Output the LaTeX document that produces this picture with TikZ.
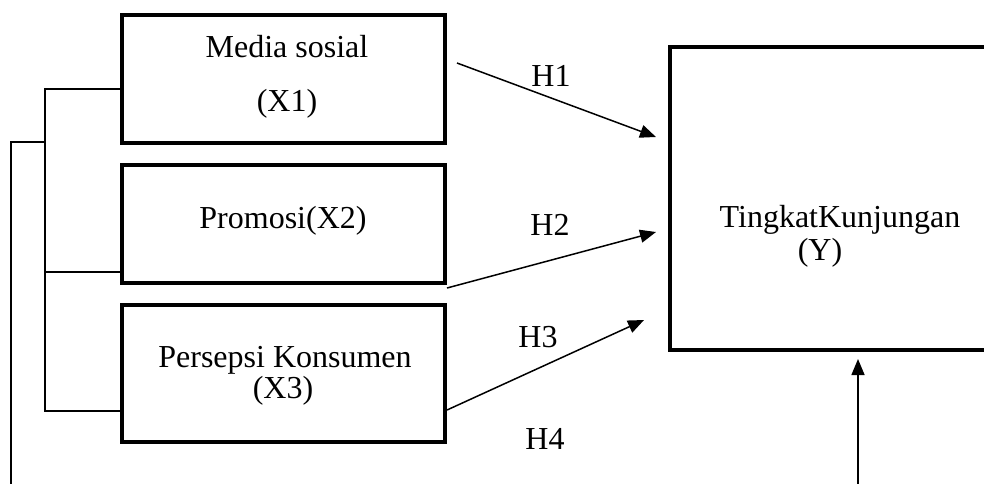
\documentclass[tikz,border=0pt]{standalone}
\usepackage{fontspec}
\setmainfont{Liberation Serif}
\usetikzlibrary{arrows.meta}
\begin{document}
\begin{tikzpicture}[x=1pt,y=-1pt,
  thickbox/.style={draw,line width=4pt,inner sep=0pt,rectangle},
  txt/.style={anchor=base,inner sep=0pt,font=\fontsize{32}{38}\selectfont},
  thin/.style={line width=1.5pt},
  arr/.style={line width=1.5pt,-{Triangle[length=16pt,width=13pt]}}]
\useasboundingbox (0,0) rectangle (984,483);
% boxes
\node[thickbox,minimum width=323pt,minimum height=128pt] (b1) at (283.5,79) {};
\node[thickbox,minimum width=323pt,minimum height=118pt] (b2) at (283.5,224) {};
\node[thickbox,minimum width=323pt,minimum height=137pt] (b3) at (283.5,373.5) {};
\node[thickbox,minimum width=340pt,minimum height=303pt] (by) at (840,198.5) {};
% texts
\node[txt] (t1) at (287,57) {Media sosial};
\node[txt] (t1b) at (287,111) {(X1)};
\node[txt] (t2) at (283,228) {Promosi(X2)};
\node[txt] (t3) at (285,367) {Persepsi Konsumen};
\node[txt] (t3b) at (283,398) {(X3)};
\node[txt] (ty) at (840,227) {TingkatKunjungan};
\node[txt] (tyb) at (820,260) {(Y)};
\node[txt] (h1) at (551,86) {H1};
\node[txt] (h2) at (550,235) {H2};
\node[txt] (h3) at (538,347) {H3};
\node[txt] (h4) at (545,449) {H4};
% bracket coordinates
\coordinate (l1) at (b1.west |- 0,89);
\coordinate (l2) at (b2.west |- 0,272);
\coordinate (l3) at (b3.west |- 0,411);
\coordinate (v1) at (45,89);
\coordinate (v2) at (45,272);
\coordinate (v3) at (45,411);
\coordinate (m) at (45,142);
\coordinate (o1) at (11,142);
\coordinate (o2) at (11,490);
\draw[thin] (l1) -- (v1) -- (v3) -- (l3);
\draw[thin] (v2) -- (l2);
\draw[thin] (m) -- (o1) -- (o2);
% arrows
\coordinate (s1) at (457,63);
\coordinate (e1) at (656,137);
\coordinate (s2) at (b2.south east);
\coordinate (e2) at (656,232);
\coordinate (s3) at (447,410);
\coordinate (e3) at (644,320);
\coordinate (s4) at (858,490);
\coordinate (e4) at (858,359);
\draw[arr] (s1) -- (e1);
\draw[arr] ([yshift=-3pt]s2) -- (e2);
\draw[arr] (s3) -- (e3);
\draw[arr] (s4) -- (e4);
\end{tikzpicture}
\end{document}
